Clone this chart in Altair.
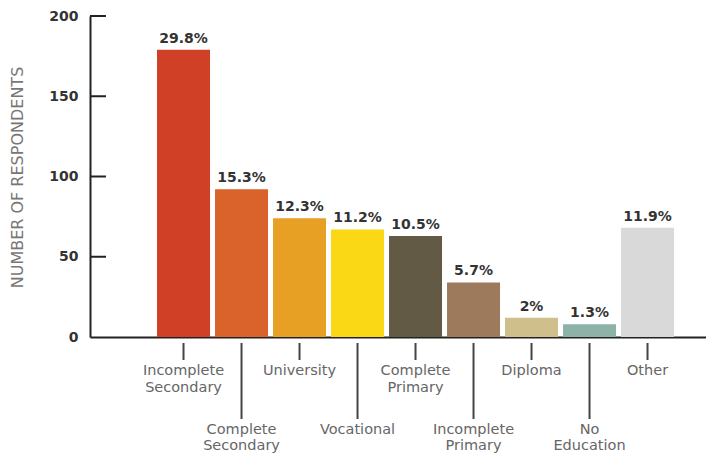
import altair as alt
import pandas as pd

categories = ["Incomplete Secondary", "Complete Secondary", "University", "Vocational",
              "Complete Primary", "Incomplete Primary", "Diploma", "No Education", "Other"]
counts = [179, 92, 74, 67, 63, 34, 12, 8, 68]
pct_labels = ["29.8%", "15.3%", "12.3%", "11.2%", "10.5%", "5.7%", "2%", "1.3%", "11.9%"]
label_lines = ["Incomplete\nSecondary", "Complete\nSecondary", "University", "Vocational",
               "Complete\nPrimary", "Incomplete\nPrimary", "Diploma", "No\nEducation", "Other"]
stagger = ["short", "long", "short", "long", "short", "long", "short", "long", "short"]
colors = ["#CF4027", "#D9632A", "#E79F24", "#FAD816", "#635A45", "#9E7A5C",
          "#CFC08B", "#8DB3A9", "#D9D9D9"]
y_ticks = [0, 50, 100, 150, 200]

df = pd.DataFrame({
    "category": categories,
    "count": counts,
    "pct": pct_labels,
    "label": label_lines,
    "stagger": stagger,
})
ticks_df = pd.DataFrame({"count": y_ticks[1:]})

FONT = "DejaVu Sans"

xenc = alt.X(
    "category:N", sort=categories,
    scale=alt.Scale(paddingInner=0.0862, paddingOuter=0.8534, align=0.677),
    axis=alt.Axis(labels=False, ticks=False, domain=True, domainColor="#222222",
                  domainWidth=2, title=None, grid=False),
)
yenc = alt.Y(
    "count:Q",
    scale=alt.Scale(domain=[0, 200], nice=False),
    axis=alt.Axis(values=y_ticks, ticks=False, labelPadding=12, labelFont=FONT,
                  labelFontWeight="bold", labelFontSize=14, labelColor="#333333",
                  labelFlush=False, domainColor="#222222", domainWidth=2, grid=False,
                  title="NUMBER OF RESPONDENTS", titleFont=FONT, titleFontWeight="normal",
                  titleFontSize=16, titleColor="#777777", titleX=-65, titleY=161,
                  titleAngle=270, titleAlign="center", titleBaseline="bottom"),
)

bars = alt.Chart(df).mark_bar().encode(
    x=xenc, y=yenc,
    color=alt.Color("category:N", scale=alt.Scale(domain=categories, range=colors), legend=None),
)

pct_text = alt.Chart(df).mark_text(
    font=FONT, fontWeight="bold", fontSize=14, color="#333333",
    baseline="alphabetic", dy=-7,
).encode(x=xenc, y=yenc, text="pct:N")

y_tick_rules = alt.Chart(ticks_df).mark_rule(color="#222222", strokeWidth=2).encode(
    y=yenc, x=alt.value(0), x2=alt.value(16)
)

short_rules = alt.Chart(df).transform_filter(alt.datum.stagger == "short").mark_rule(
    color="#444444", strokeWidth=2
).encode(x=xenc, y=alt.value(327), y2=alt.value(344))

long_rules = alt.Chart(df).transform_filter(alt.datum.stagger == "long").mark_rule(
    color="#444444", strokeWidth=2
).encode(x=xenc, y=alt.value(327), y2=alt.value(403))

short_labels = alt.Chart(df).transform_filter(alt.datum.stagger == "short").mark_text(
    font=FONT, fontSize=14.5, color="#666666", baseline="alphabetic", align="center",
    lineBreak="\n", lineHeight=16.5,
).encode(x=xenc, y=alt.value(359), text="label:N")

long_labels = alt.Chart(df).transform_filter(alt.datum.stagger == "long").mark_text(
    font=FONT, fontSize=14.5, color="#666666", baseline="alphabetic", align="center",
    lineBreak="\n", lineHeight=16,
).encode(x=xenc, y=alt.value(418), text="label:N")

chart = alt.layer(
    bars, pct_text, y_tick_rules, short_rules, long_rules, short_labels, long_labels
).properties(
    width=616, height=321,
    autosize=alt.AutoSizeParams(type="none"),
    padding={"left": 82, "top": 8, "right": 0, "bottom": 117},
).configure_view(stroke=None)

chart.save("out.html", embed_options={"renderer": "svg", "actions": False})
